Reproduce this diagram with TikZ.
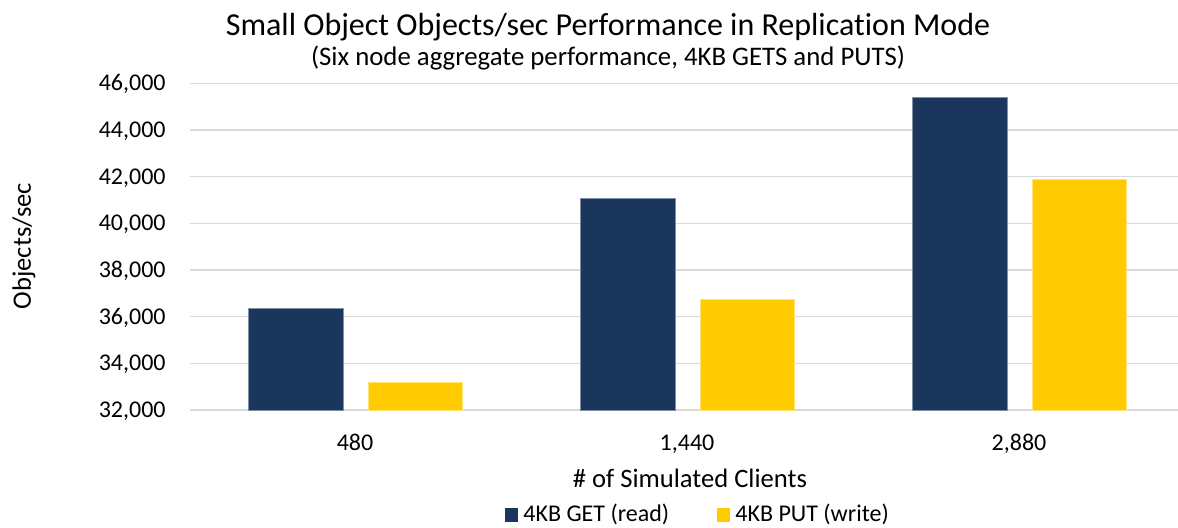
\documentclass[tikz,border=0pt]{standalone}
\usepackage{fontspec}
\setmainfont{Carlito}[Ligatures=CommonOff]
\usetikzlibrary{positioning}
\definecolor{getBlue}{RGB}{26,54,93}
\definecolor{putGold}{RGB}{255,203,0}
\definecolor{gridGray}{RGB}{217,217,217}

\begin{document}
\begin{tikzpicture}[x=0.5pt, y=-0.5pt,
  ticklab/.style={font=\fontsize{12}{14}\selectfont, anchor=base east, inner sep=0pt},
  catlab/.style={font=\fontsize{12}{14}\selectfont, anchor=base, inner sep=0pt},
  axtitle/.style={font=\fontsize{13.3}{16}\selectfont, inner sep=0pt},
  legtext/.style={font=\fontsize{12}{14}\selectfont, anchor=base west, inner sep=0pt},
  getbar/.style={fill=getBlue, draw=getBlue!55!white, line width=0.4pt},
  putbar/.style={fill=putGold, draw=putGold!55!white, line width=0.4pt}]
\useasboundingbox (0,0) rectangle (1178,527);
% y in thousands: 32 -> 410px, 2 per 46.67px (pixel frame, y downwards)
\def\yy#1{{410-(#1-32)/2*46.67}}
% grid lines and tick labels
\foreach \t in {32,34,...,46}{
  \draw[gridGray, line width=0.75pt] (190,\yy{\t}) -- (1178,\yy{\t});
  \node[ticklab, yshift=-3.75pt] (tick\t) at (166,\yy{\t}) {\t,000};
}
% bars: group centre / GET / PUT / client count
\foreach \g/\get/\put/\lab [count=\i] in {355/36.357/33.200/480,
                                           687/41.074/36.744/{1,440},
                                           1019/45.407/41.872/{2,880}}{
  \draw[getbar] (\g-107,410) rectangle (\g-12,\yy{\get});
  \draw[putbar] (\g+13,410) rectangle (\g+107,\yy{\put});
  \node[catlab] (cat\i) at (\g,450) {\lab};
}
% titles
\node[font=\fontsize{16}{19}\selectfont, anchor=base, inner sep=0pt] (title) at (608,35)
  {Small Object Objects/sec Performance in Replication Mode};
\node[font=\fontsize{13.4}{16}\selectfont, anchor=base, inner sep=0pt] (subtitle) at (608,65)
  {(Six node aggregate performance, 4KB GETS and PUTS)};
\node[axtitle, anchor=base] (xtitle) at (690,487) {\# of Simulated Clients};
\node[axtitle, rotate=90] (ytitle) at (24,246) {Objects/sec};
% legend
\fill[getBlue] (505,508) rectangle (518,521.5);
\node[legtext] (legget) at (523,521.5) {4KB GET (read)};
\fill[putGold] (717,508) rectangle (730,521.5);
\node[legtext] (legput) at (735,521.5) {4KB PUT (write)};
\end{tikzpicture}
\end{document}
